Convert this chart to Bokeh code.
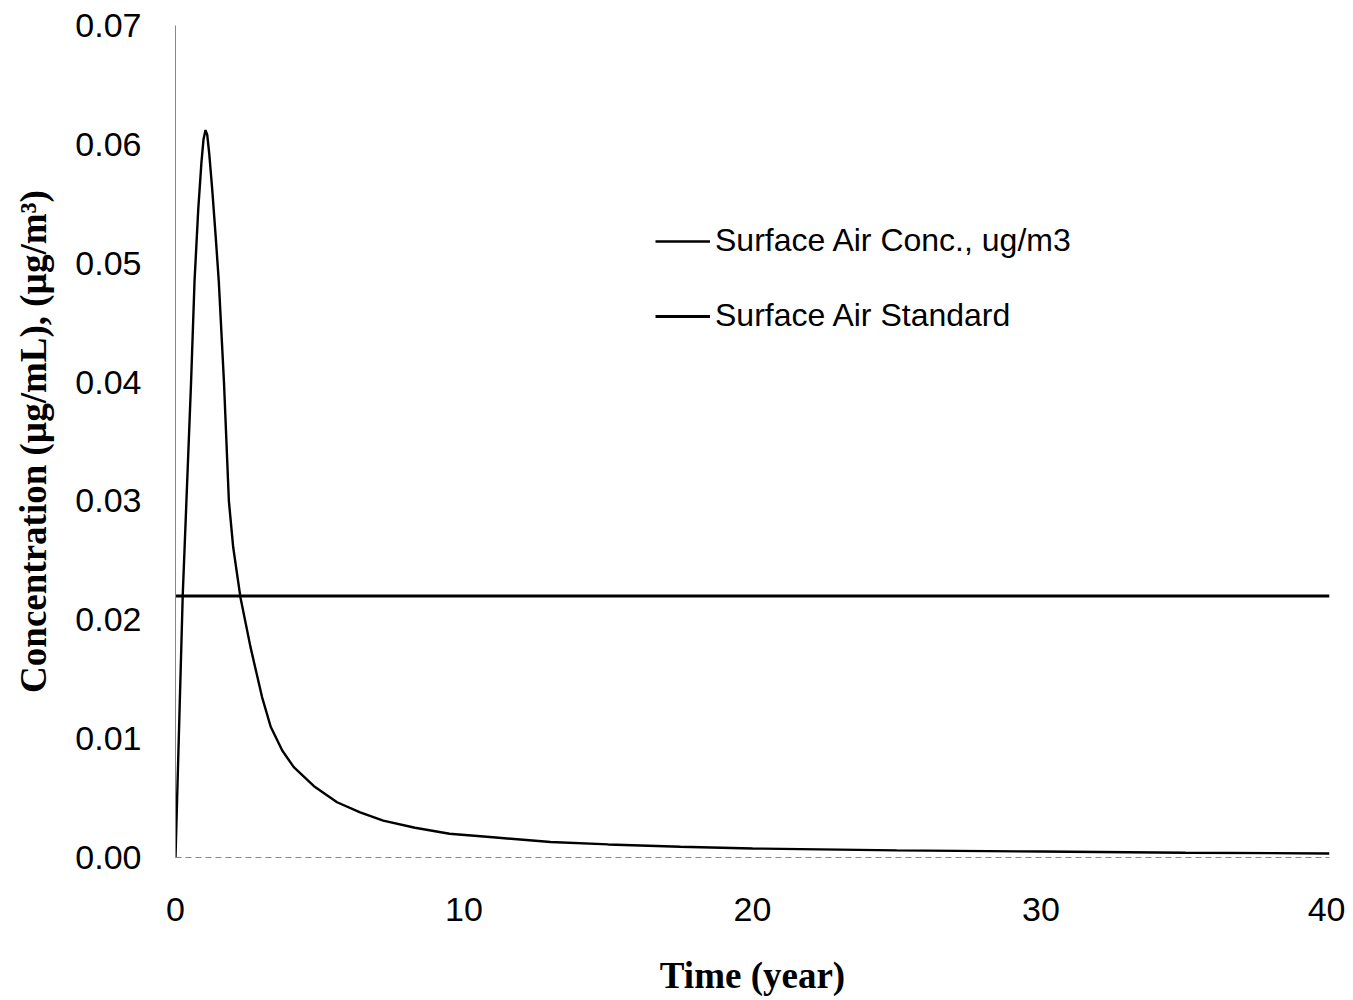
from bokeh.plotting import figure
from bokeh.models import Range1d, FixedTicker, NumeralTickFormatter, Legend, LegendItem
from bokeh.embed import file_html
from bokeh.resources import INLINE

# Data
time_yr = [0, 0.25, 0.54, 0.66, 0.79, 0.9, 0.97, 1.04, 1.1, 1.17, 1.27, 1.4, 1.5, 1.68, 1.85,
           2.0, 2.25, 2.6, 3.0, 3.3, 3.7, 4.1, 4.8, 5.6, 6.4, 7.2, 8.3, 9.5, 11, 13, 15,
           17.5, 20, 25, 30, 35, 40]
surface_conc = [0, 0.022, 0.040, 0.0485, 0.0546, 0.0585, 0.0604, 0.0612, 0.0608, 0.0592,
                0.0563, 0.052, 0.0485, 0.040, 0.0300, 0.0261, 0.0219, 0.0177, 0.0135,
                0.0110, 0.0090, 0.0076, 0.0060, 0.00465, 0.0038, 0.0031, 0.0025, 0.0020,
                0.0017, 0.0013, 0.0011, 0.0009, 0.00076, 0.0006, 0.0005, 0.0004, 0.00034]
standard_x = [0, 40]
standard_y = [0.022, 0.022]
x_ticks = [0, 10, 20, 30, 40]
y_ticks = [0, 0.01, 0.02, 0.03, 0.04, 0.05, 0.06, 0.07]

W, H = 1345, 1000
p = figure(width=W, height=H, output_backend="svg", toolbar_location=None,
           x_range=Range1d(0, 40), y_range=Range1d(0, 0.07))
p.min_border_left = 175
p.min_border_right = W - 1329
p.min_border_top = 25
p.min_border_bottom = H - 857
p.outline_line_color = None
p.xgrid.visible = False
p.ygrid.visible = False

for ax in (p.xaxis[0], p.yaxis[0]):
    ax.axis_line_color = "#888888"
    ax.axis_line_width = 1
    ax.major_tick_line_color = None
    ax.minor_tick_line_color = None
    ax.major_label_text_font = "Liberation Sans"
    ax.major_label_text_font_size = "34px"
    ax.major_label_text_color = "black"
    ax.axis_label_text_font = "Liberation Serif"
    ax.axis_label_text_font_style = "bold"
    ax.axis_label_text_font_size = "37px"
    ax.axis_label_text_color = "black"

p.xaxis[0].ticker = FixedTicker(ticks=x_ticks)
p.yaxis[0].ticker = FixedTicker(ticks=y_ticks)
p.yaxis[0].formatter = NumeralTickFormatter(format="0.00")
p.xaxis[0].major_label_standoff = 34
p.yaxis[0].major_label_standoff = 28
p.xaxis[0].axis_line_dash = "6 4"
p.xaxis[0].axis_label = "Time (year)"
p.yaxis[0].axis_label = "Concentration (µg/mL), (µg/m³)"
p.xaxis[0].axis_label_standoff = 31
p.yaxis[0].axis_label_standoff = 18

r1 = p.line(time_yr, surface_conc, line_color="black", line_width=2.4)
r2 = p.line(standard_x, standard_y, line_color="black", line_width=3)

legend = Legend(items=[LegendItem(label="Surface Air Conc., ug/m3", renderers=[r1]),
                       LegendItem(label="Surface Air Standard", renderers=[r2])],
                location=(480, 523), orientation="vertical")
legend.border_line_color = None
legend.background_fill_alpha = 0
legend.label_text_font = "Liberation Sans"
legend.label_text_font_size = "32px"
legend.label_text_color = "black"
legend.glyph_width = 55
legend.glyph_height = 32
legend.label_height = 32
legend.label_standoff = 5
legend.spacing = 38
legend.padding = 0
legend.margin = 0
p.add_layout(legend, "center")

open("out.html", "w").write(file_html(p, INLINE))
